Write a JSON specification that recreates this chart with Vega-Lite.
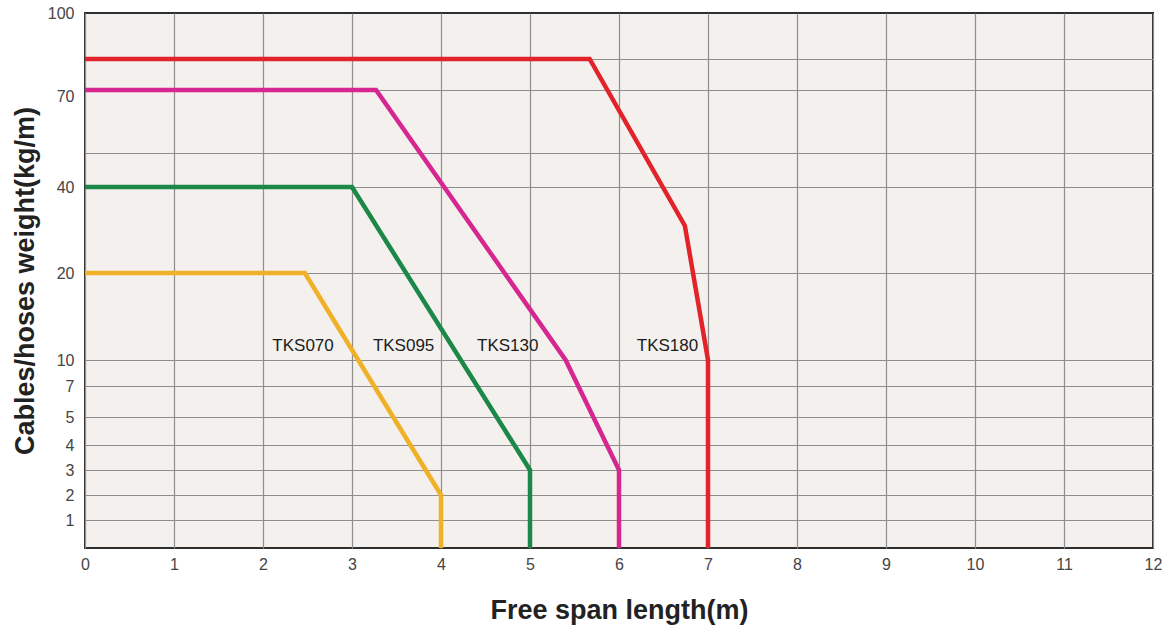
{
  "$schema": "https://vega.github.io/schema/vega-lite/v6.json",
  "width": 1068,
  "height": 535,
  "autosize": {"type": "none"},
  "padding": {"left": 85, "top": 13, "right": 9, "bottom": 77},
  "background": "white",
  "config": {
    "font": "Liberation Sans",
    "view": {"fill": "#f3f0ed", "stroke": "#2f2f2f", "strokeWidth": 2}
  },
  "datasets": {
    "curves": [
      {"series": "TKS070", "x": 0, "y": 20, "o": 1},
      {"series": "TKS070", "x": 2.47, "y": 20, "o": 2},
      {"series": "TKS070", "x": 4, "y": 2, "o": 3},
      {"series": "TKS070", "x": 4, "y": 0, "o": 4},
      {"series": "TKS095", "x": 0, "y": 40, "o": 1},
      {"series": "TKS095", "x": 3, "y": 40, "o": 2},
      {"series": "TKS095", "x": 5, "y": 3, "o": 3},
      {"series": "TKS095", "x": 5, "y": 0, "o": 4},
      {"series": "TKS130", "x": 0, "y": 72, "o": 1},
      {"series": "TKS130", "x": 3.27, "y": 72, "o": 2},
      {"series": "TKS130", "x": 5.4, "y": 10, "o": 3},
      {"series": "TKS130", "x": 6, "y": 3, "o": 4},
      {"series": "TKS130", "x": 6, "y": 0, "o": 5},
      {"series": "TKS180", "x": 0, "y": 85, "o": 1},
      {"series": "TKS180", "x": 5.67, "y": 85, "o": 2},
      {"series": "TKS180", "x": 6.74, "y": 31, "o": 3},
      {"series": "TKS180", "x": 7, "y": 10, "o": 4},
      {"series": "TKS180", "x": 7, "y": 0, "o": 5}
    ],
    "labels": [
      {"label": "TKS070", "x": 2.45, "y": 11.6},
      {"label": "TKS095", "x": 3.58, "y": 11.6},
      {"label": "TKS130", "x": 4.75, "y": 11.6},
      {"label": "TKS180", "x": 6.545, "y": 11.6}
    ]
  },
  "encoding": {
    "x": {
      "field": "x",
      "type": "quantitative",
      "scale": {"domain": [0, 12], "nice": false, "zero": false},
      "axis": {
        "values": [0, 1, 2, 3, 4, 5, 6, 7, 8, 9, 10, 11, 12],
        "grid": true,
        "gridColor": "#8e8e8e",
        "gridWidth": 1.2,
        "domain": false,
        "ticks": false,
        "tickSize": 0,
        "labelPadding": 8,
        "labelFontSize": 16,
        "labelColor": "#444444",
        "labelFlush": false,
        "labelOverlap": false,
        "title": "Free span length(m)",
        "titleFontSize": 27,
        "titleFontWeight": "bold",
        "titleColor": "#222222",
        "titleY": 70,
        "titleBaseline": "alphabetic"
      }
    },
    "y": {
      "field": "y",
      "type": "quantitative",
      "scale": {
        "type": "linear",
        "domain": [0, 1, 2, 3, 4, 5, 7, 10, 20, 40, 50, 70, 72, 85, 100],
        "range": [535, 507, 482, 457, 432, 404, 373, 347, 260, 174, 140, 83, 77, 46, 0],
        "nice": false,
        "zero": false
      },
      "axis": {
        "values": [1, 2, 3, 4, 5, 7, 10, 20, 40, 50, 70, 72, 85, 100],
        "labelExpr": "datum.value == 50 || datum.value == 72 || datum.value == 85 ? '' : datum.label",
        "grid": true,
        "gridColor": "#8e8e8e",
        "gridWidth": 1.2,
        "gridOpacity": {"condition": {"test": "datum.value == 70 || datum.value == 100", "value": 0}, "value": 1},
        "domain": false,
        "ticks": false,
        "tickSize": 0,
        "labelPadding": 11,
        "labelFontSize": 16,
        "labelColor": "#444444",
        "labelOverlap": false,
        "labelFlush": false,
        "title": "Cables/hoses weight(kg/m)",
        "titleFontSize": 27,
        "titleFontWeight": "bold",
        "titleColor": "#222222",
        "titleAngle": -90,
        "titleAlign": "center",
        "titleBaseline": "alphabetic",
        "titleX": -52,
        "titleY": 267.5
      }
    }
  },
  "layer": [
    {
      "data": {"name": "curves"},
      "mark": {"type": "line", "strokeWidth": 4.5, "strokeJoin": "miter", "strokeCap": "butt"},
      "encoding": {
        "order": {"field": "o", "type": "quantitative"},
        "color": {
          "field": "series",
          "type": "nominal",
          "scale": {
            "domain": ["TKS070", "TKS095", "TKS130", "TKS180"],
            "range": ["#f0b128", "#1b8748", "#d6268f", "#e2232a"]
          },
          "legend": null
        }
      }
    },
    {
      "data": {"name": "labels"},
      "mark": {"type": "text", "fontSize": 17, "color": "#1c1c1c", "baseline": "middle", "align": "center"},
      "encoding": {
        "text": {"field": "label", "type": "nominal"}
      }
    }
  ]
}
